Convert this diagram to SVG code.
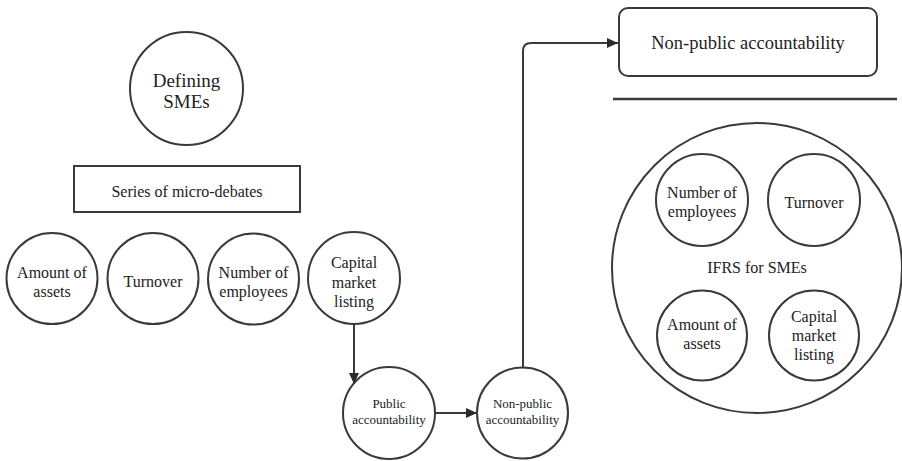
<svg xmlns="http://www.w3.org/2000/svg" width="902" height="461" viewBox="0 0 902 461">
<defs>
<style>
.n{fill:#fff;stroke:#3a3a3a;stroke-width:2}
.t{font-family:"Liberation Serif","Times New Roman",serif;fill:#222;text-anchor:middle;font-size:16px}
.s{font-size:13px}
.c{fill:none;stroke:#3a3a3a;stroke-width:2}
</style>
<marker id="ah" markerUnits="userSpaceOnUse" markerWidth="12" markerHeight="10" refX="11" refY="5" orient="auto">
<path d="M0,0 L11,5 L0,10 Z" fill="#2a2a2a"/>
</marker>
</defs>
<rect width="902" height="461" fill="#fff"/>
<g id="defining">
<circle class="n" cx="186.5" cy="88.5" r="56.5"/>
<text class="t" style="font-size:19px" x="186.5" y="87">Defining</text>
<text class="t" style="font-size:19px" x="186.5" y="108">SMEs</text>
</g>
<g id="series">
<rect class="n" x="74" y="166" width="226" height="46"/>
<text class="t" x="187" y="197">Series of micro-debates</text>
</g>
<g id="amount">
<circle class="n" cx="52" cy="278.5" r="45.5"/>
<text class="t" x="52" y="278">Amount of</text>
<text class="t" x="52" y="297">assets</text>
</g>
<g id="turnover">
<circle class="n" cx="153" cy="278.5" r="45.5"/>
<text class="t" x="153" y="287">Turnover</text>
</g>
<g id="employees">
<circle class="n" cx="253.5" cy="279" r="45.5"/>
<text class="t" x="253.5" y="278">Number of</text>
<text class="t" x="253.5" y="297">employees</text>
</g>
<g id="capital">
<circle class="n" cx="354" cy="278" r="46"/>
<text class="t" x="354" y="268">Capital</text>
<text class="t" x="354" y="288">market</text>
<text class="t" x="354" y="307">listing</text>
</g>
<g id="public">
<circle class="n" cx="389" cy="413" r="46"/>
<text class="t s" x="389" y="408">Public</text>
<text class="t s" x="389" y="424">accountability</text>
</g>
<g id="nonpublic-small">
<circle class="n" cx="522.5" cy="413" r="45.5"/>
<text class="t s" x="522.5" y="408">Non-public</text>
<text class="t s" x="522.5" y="424">accountability</text>
</g>
<g id="nonpublic-box">
<rect class="n" x="619" y="8" width="258" height="68" rx="9"/>
<text class="t" style="font-size:18.5px" x="748" y="49">Non-public accountability</text>
</g>
<g id="rule">
<line x1="613" y1="99" x2="897" y2="99" stroke="#3a3a3a" stroke-width="2.5"/>
</g>
<g id="ifrs">
<circle class="n" cx="757" cy="268" r="145"/>
<text class="t" x="757" y="273">IFRS for SMEs</text>
</g>
<g id="ifrs-employees">
<circle class="n" cx="702" cy="200" r="46"/>
<text class="t" x="702" y="198">Number of</text>
<text class="t" x="702" y="217">employees</text>
</g>
<g id="ifrs-turnover">
<circle class="n" cx="814" cy="200" r="46"/>
<text class="t" x="814" y="208">Turnover</text>
</g>
<g id="ifrs-amount">
<circle class="n" cx="702" cy="335.5" r="45"/>
<text class="t" x="702" y="330">Amount of</text>
<text class="t" x="702" y="349">assets</text>
</g>
<g id="ifrs-capital">
<circle class="n" cx="814" cy="335.5" r="45"/>
<text class="t" x="814" y="322">Capital</text>
<text class="t" x="814" y="341">market</text>
<text class="t" x="814" y="360">listing</text>
</g>
<g id="connectors">
<line class="c" x1="354" y1="324" x2="354" y2="384" marker-end="url(#ah)"/>
<line class="c" x1="435" y1="413" x2="477" y2="413" marker-end="url(#ah)"/>
<path class="c" d="M523,367.5 V51 Q523,43 531,43 H618" marker-end="url(#ah)"/>
</g>
</svg>
